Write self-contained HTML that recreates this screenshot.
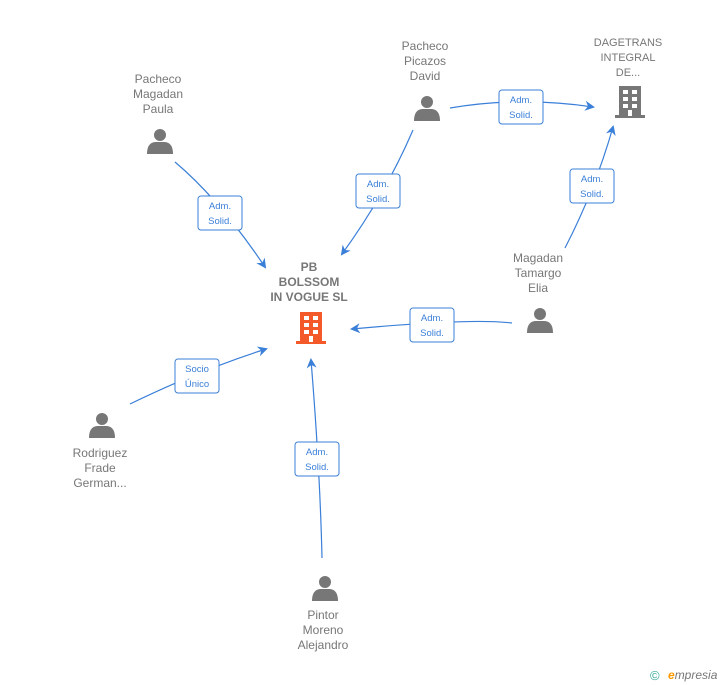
<!DOCTYPE html>
<html><head><style>body{margin:0;background:#fff}svg{display:block;font-family:"Liberation Sans",sans-serif}</style></head><body>
<svg width="728" height="685" viewBox="0 0 728 685">
<defs>
<marker id="a" markerWidth="10" markerHeight="10" refX="8" refY="5" orient="auto" markerUnits="userSpaceOnUse"><path d="M0,0 L10,5 L0,10 L3,5 z" fill="#3a7fd8"/></marker>
<g id="p"><circle cx="0" cy="-7" r="6" fill="#777"/><path d="M-13,12 C-13,2 -8,0 -4,0 L4,0 C8,0 13,2 13,12 z" fill="#777"/></g>
<g id="b"><rect x="-11" y="-16" width="22" height="30" fill="currentColor"/><rect x="-15" y="13" width="30" height="3" fill="currentColor"/>
<g fill="#fff"><rect x="-7" y="-12" width="5" height="4"/><rect x="2" y="-12" width="5" height="4"/><rect x="-7" y="-5" width="5" height="4"/><rect x="2" y="-5" width="5" height="4"/><rect x="-7" y="2" width="5" height="4"/><rect x="2" y="2" width="5" height="4"/><rect x="-2" y="8" width="4" height="6"/></g></g>
</defs>
<g fill="none" stroke="#3a7fd8" stroke-width="1.2" marker-end="url(#a)">
<path d="M175,162 Q220,200 265,267"/>
<path d="M413,130 Q385,195 342,254"/>
<path d="M450,108 Q520,96 593,107"/>
<path d="M565,248 Q595,190 613,127"/>
<path d="M512,323 Q470,318 352,329"/>
<path d="M130,404 Q200,370 266,349"/>
<path d="M322,558 Q320,470 311,360"/>
</g>
<g font-size="9.5" fill="#3a7fd8" text-anchor="middle">
<g transform="translate(220,213)"><rect x="-22" y="-17" width="44" height="34" rx="3" fill="#fff" stroke="#3a7fd8"/><text y="-4">Adm.</text><text y="11">Solid.</text></g>
<g transform="translate(378,191)"><rect x="-22" y="-17" width="44" height="34" rx="3" fill="#fff" stroke="#3a7fd8"/><text y="-4">Adm.</text><text y="11">Solid.</text></g>
<g transform="translate(521,107)"><rect x="-22" y="-17" width="44" height="34" rx="3" fill="#fff" stroke="#3a7fd8"/><text y="-4">Adm.</text><text y="11">Solid.</text></g>
<g transform="translate(592,186)"><rect x="-22" y="-17" width="44" height="34" rx="3" fill="#fff" stroke="#3a7fd8"/><text y="-4">Adm.</text><text y="11">Solid.</text></g>
<g transform="translate(432,325)"><rect x="-22" y="-17" width="44" height="34" rx="3" fill="#fff" stroke="#3a7fd8"/><text y="-4">Adm.</text><text y="11">Solid.</text></g>
<g transform="translate(197,376)"><rect x="-22" y="-17" width="44" height="34" rx="3" fill="#fff" stroke="#3a7fd8"/><text y="-4">Socio</text><text y="11">Único</text></g>
<g transform="translate(317,459)"><rect x="-22" y="-17" width="44" height="34" rx="3" fill="#fff" stroke="#3a7fd8"/><text y="-4">Adm.</text><text y="11">Solid.</text></g>
</g>
<use href="#b" x="311" y="328" style="color:#f4592a"/>
<use href="#b" x="630" y="102" style="color:#777"/>
<use href="#p" x="160" y="142"/>
<use href="#p" x="427" y="109"/>
<use href="#p" x="540" y="321"/>
<use href="#p" x="102" y="426"/>
<use href="#p" x="325" y="589"/>
<g font-size="12" fill="#777" text-anchor="middle">
<g font-weight="bold"><text x="309" y="271">PB</text><text x="309" y="286">BOLSSOM</text><text x="309" y="301">IN VOGUE   SL</text></g>
<g font-size="11"><text x="628" y="46">DAGETRANS</text><text x="628" y="61">INTEGRAL</text><text x="628" y="76">DE...</text></g>
<text x="158" y="83">Pacheco</text><text x="158" y="98">Magadan</text><text x="158" y="113">Paula</text>
<text x="425" y="50">Pacheco</text><text x="425" y="65">Picazos</text><text x="425" y="80">David</text>
<text x="538" y="262">Magadan</text><text x="538" y="277">Tamargo</text><text x="538" y="292">Elia</text>
<text x="100" y="457">Rodriguez</text><text x="100" y="472">Frade</text><text x="100" y="487">German...</text>
<text x="323" y="619">Pintor</text><text x="323" y="634">Moreno</text><text x="323" y="649">Alejandro</text>
</g>
<text x="650" y="680" font-size="13" fill="#3a9">©</text>
<text x="668" y="679" font-size="12" font-style="italic" fill="#777"><tspan fill="#f90" font-weight="bold">e</tspan>mpresia</text>
</svg>
</body></html>
